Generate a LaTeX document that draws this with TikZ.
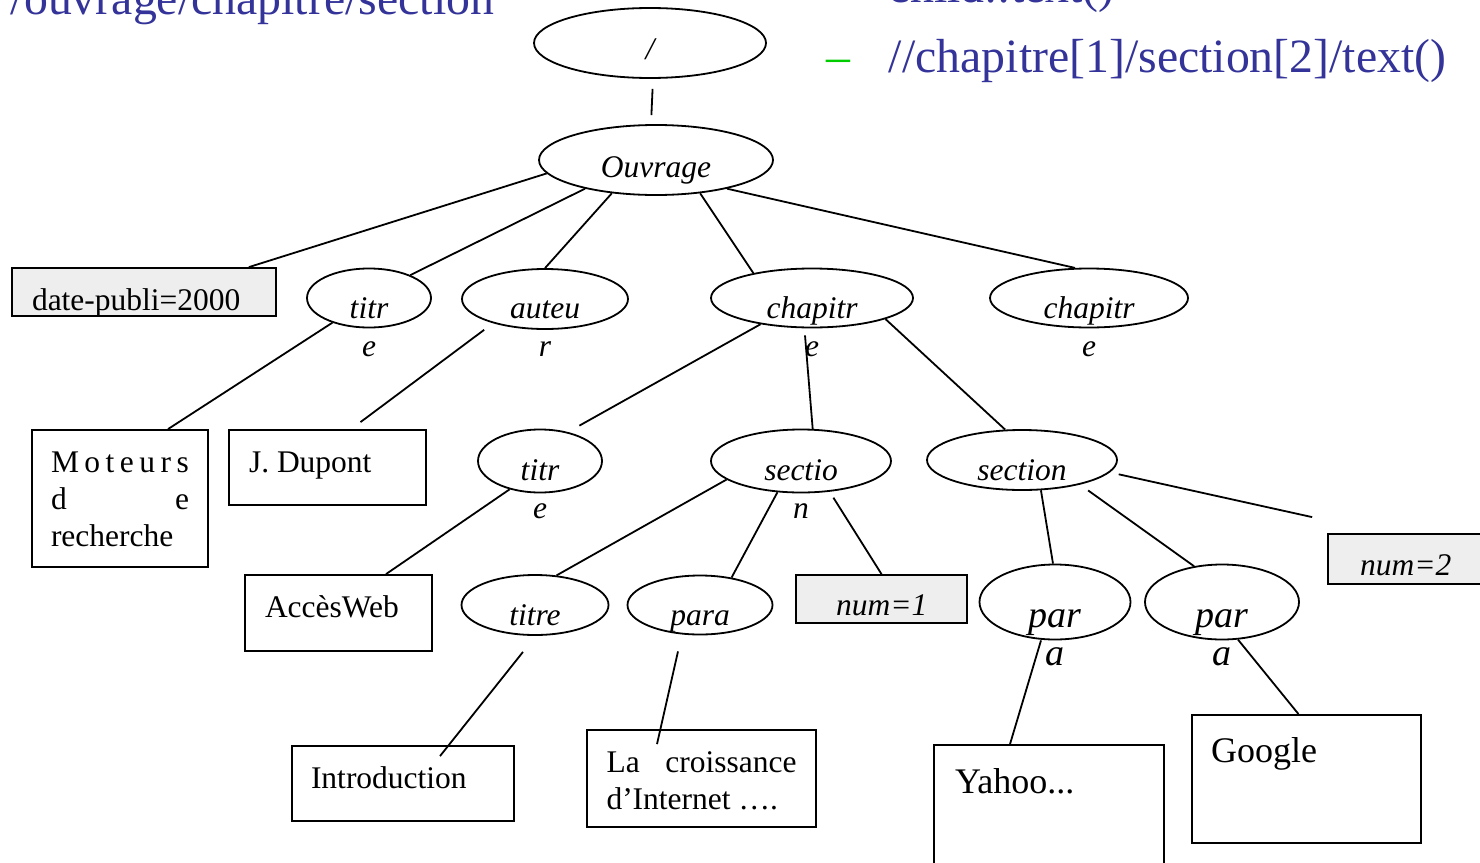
\documentclass[tikz,border=0pt]{standalone}
\usepackage{fontspec}
\setmainfont{Liberation Serif}
\usepackage{tikz}
\usetikzlibrary{shapes.geometric}
\definecolor{xpblue}{RGB}{51,51,153}
\definecolor{xpgreen}{RGB}{0,204,0}
\definecolor{attrgray}{RGB}{238,238,238}
\newcommand{\etxt}[3]{\raisebox{-#1pt}[0pt][0pt]{\begin{tabular}[t]{@{}c@{}}#2\\#3\end{tabular}}}
\newcommand{\btxt}[3]{\raisebox{-#1pt}[0pt][0pt]{\parbox[t]{#2pt}{#3}}}
\begin{document}
\begin{tikzpicture}[x=1pt, y=-1pt, line width=1.8pt, every node/.style={inner sep=0pt},
  ell/.style={draw, ellipse, font=\fontsize{31.5pt}{38pt}\selectfont\itshape},
  bigell/.style={ell, font=\fontsize{38pt}{38pt}\selectfont\itshape},
  leaf/.style={draw, rectangle, font=\fontsize{31.5pt}{37pt}\selectfont},
  bigleaf/.style={leaf, font=\fontsize{36pt}{42pt}\selectfont},
  attr/.style={leaf, fill=attrgray},
  xp/.style={anchor=base west, text=xpblue, font=\fontsize{47.8pt}{57pt}\selectfont}]
\useasboundingbox (0,0) rectangle (1480,862);
\clip (0,0) rectangle (1480,862);
\node[xp] (xpa) at (10,14) {/ouvrage/chapitre/section};
\node[xp] (xpb) at (888,2) {child::text()};
\node[xp, text=xpgreen] (dash) at (826,72) {–};
\node[xp] (xpc) at (888,72) {//chapitre[1]/section[2]/text()};
\node[ell, minimum width=232pt, minimum height=70pt] (root) at (650,43) {\etxt{16}{/}{}};
\node[ell, minimum width=234pt, minimum height=70pt] (ouvrage) at (656,160) {\etxt{17}{Ouvrage}{}};
\node[attr, minimum width=264pt, minimum height=48pt] (date) at (144,292) {\btxt{18}{224}{date-publi=2000}};
\node[ell, minimum width=124pt, minimum height=59pt] (titre1) at (369,298) {\etxt{20}{titr}{e}};
\node[ell, minimum width=166pt, minimum height=60pt] (auteur) at (545,299) {\etxt{19}{auteu}{r}};
\node[ell, minimum width=202pt, minimum height=59pt] (chap1) at (812,298) {\etxt{20}{chapitr}{e}};
\node[ell, minimum width=198pt, minimum height=59pt] (chap2) at (1089,298) {\etxt{20}{chapitr}{e}};
\node[leaf, minimum width=176pt, minimum height=137pt] (moteurs) at (120,498.5) {\btxt{-26.5}{138}{\makebox[138pt][s]{M\hfill o\hfill t\hfill e\hfill u\hfill r\hfill s}\\\makebox[138pt][s]{d\hfill e}\\recherche}};
\node[leaf, minimum width=197pt, minimum height=75pt] (dupont) at (327.5,467.5) {\btxt{4.5}{157}{J. Dupont}};
\node[ell, minimum width=124pt, minimum height=63pt] (titre2) at (540,461) {\etxt{19}{titr}{e}};
\node[ell, minimum width=180pt, minimum height=63pt] (sectio) at (801,461) {\etxt{19}{sectio}{n}};
\node[ell, minimum width=190pt, minimum height=60pt] (section) at (1022,460) {\etxt{20}{section}{}};
\node[leaf, minimum width=187pt, minimum height=76pt] (acces) at (338.5,613) {\btxt{4}{147}{AccèsWeb}};
\node[ell, minimum width=147pt, minimum height=60pt] (titre3) at (535,605) {\etxt{20}{titre}{}};
\node[ell, minimum width=145pt, minimum height=59pt] (para) at (700,605) {\etxt{20}{para}{}};
\node[attr, minimum width=171pt, minimum height=48pt] (num1) at (881.5,599) {\btxt{16}{91}{\itshape num=1}};
\node[bigell, minimum width=151pt, minimum height=75pt] (par1) at (1055,602) {\etxt{25}{par}{a}};
\node[bigell, minimum width=154pt, minimum height=75pt] (par2) at (1222,602) {\etxt{25}{par}{a}};
\node[attr, minimum width=162pt, minimum height=50pt] (num2) at (1409,559) {\btxt{16}{98}{\itshape num=2}};
\node[leaf, minimum width=222pt, minimum height=75pt] (intro) at (403,783.5) {\btxt{4.5}{184}{Introduction}};
\node[leaf, minimum width=229pt, minimum height=97pt] (croiss) at (701.5,778.5) {\btxt{-6.5}{190}{\makebox[190pt][s]{La\hfill croissance}\\d’Internet ….}};
\node[bigleaf, minimum width=230pt, minimum height=150pt] (yahoo) at (1049,820) {\btxt{-27}{188}{Yahoo...}};
\node[bigleaf, minimum width=229pt, minimum height=128pt] (google) at (1306.5,779) {\btxt{-17}{191}{Google}};
\draw[shorten <=10pt, shorten >=9pt] ([xshift=3pt]root.south) -- ([xshift=-5pt]ouvrage.north);
\draw (ouvrage.187) -- ([xshift=-28pt]date.north east);
\draw (ouvrage.202) -- (titre1.29);
\draw (ouvrage.217) -- (auteur.north);
\draw (ouvrage.323) -- (chap1.157);
\draw (ouvrage.338) -- (chap2.115);
\draw ([xshift=-7pt, yshift=-7pt]chap1.south) -- (sectio.70);
\draw (chap1.344) -- (section.119);
\draw[shorten >=13pt] (chap1.207) -- (titre2.46);
\draw (titre1.214) -- ([xshift=48pt]moteurs.north);
\draw[shorten <=11pt] (auteur.205) -- ([xshift=33pt, yshift=7pt]dupont.north);
\draw (titre2.223) -- ([xshift=47.5pt]acces.north);
\draw (sectio.194) -- (titre3.54);
\draw (sectio.233) -- (para.41);
\draw[shorten <=7pt] (sectio.313) -- (num1.north);
\draw (section.302) -- ([xshift=-2pt]par1.north);
\draw[shorten <=10pt] (section.337) -- (par2.128);
\draw[shorten <=9pt] (section.352) -- ([xshift=-15pt, yshift=16pt]num2.north west);
\draw ([xshift=-12pt, yshift=-16pt]titre3.south) -- ([xshift=37pt, yshift=-11pt]intro.north);
\draw ([xshift=-22pt, yshift=-16pt]para.south) -- ([xshift=-44.5pt, yshift=-15pt]croiss.north);
\draw ([xshift=-14pt]par1.south) -- ([xshift=-39pt]yahoo.north);
\draw (par2.293) -- ([xshift=-8pt]google.north);
\end{tikzpicture}
\end{document}
